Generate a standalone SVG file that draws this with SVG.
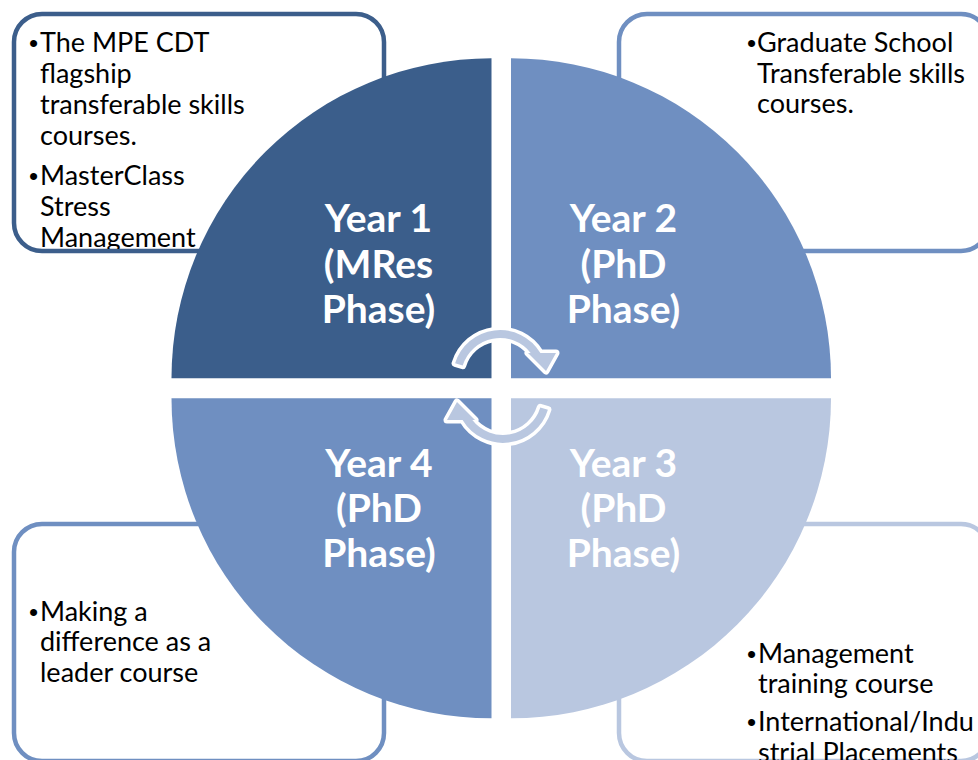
<svg xmlns="http://www.w3.org/2000/svg" width="978" height="760" viewBox="0 0 978 760">
<defs>
<style>
.box{fill:#fff;stroke-width:4.5}
.body{font-family:Lato,"Liberation Sans",sans-serif;font-size:27px;fill:#000}
.bul{font-family:"Liberation Sans",sans-serif;font-size:26px}
.yr{font-family:Lato,"Liberation Sans",sans-serif;font-size:39px;font-weight:bold;fill:#fff;text-anchor:middle}
.arrow{fill:#B9C7E0;stroke:#fff;stroke-width:7;stroke-linejoin:round;paint-order:stroke}
</style>
<clipPath id="clipTL"><rect x="16" y="16" width="366" height="233"/></clipPath>
</defs>
<g id="box-tl">
<rect class="box" x="14" y="14" width="370" height="237" rx="28" stroke="#3C5E8B"/>
<g clip-path="url(#clipTL)" class="body">
<text y="52"><tspan class="bul" x="29">•</tspan><tspan x="40">The MPE CDT</tspan></text>
<text x="40" y="83">flagship</text>
<text x="40" y="114">transferable skills</text>
<text x="40" y="145">courses.</text>
<text y="185"><tspan class="bul" x="29">•</tspan><tspan x="40">MasterClass</tspan></text>
<text x="40" y="216">Stress</text>
<text x="40" y="247">Management</text>
</g>
</g>
<g id="box-tr">
<rect class="box" x="619" y="14" width="370" height="237" rx="28" stroke="#6F8FC1"/>
<g class="body">
<text y="52"><tspan class="bul" x="747">•</tspan><tspan x="757">Graduate School</tspan></text>
<text x="757" y="83">Transferable skills</text>
<text x="757" y="113">courses.</text>
</g>
</g>
<g id="box-bl">
<rect class="box" x="14" y="524" width="370" height="237" rx="28" stroke="#6F8FC1"/>
<g class="body">
<text y="621"><tspan class="bul" x="29">•</tspan><tspan x="40">Making a</tspan></text>
<text x="40" y="651">difference as a</text>
<text x="40" y="682">leader course</text>
</g>
</g>
<g id="box-br">
<rect class="box" x="619" y="524" width="370" height="237" rx="28" stroke="#B9C7E0"/>
<g class="body">
<text y="663"><tspan class="bul" x="747">•</tspan><tspan x="758">Management</tspan></text>
<text x="758" y="693">training course</text>
<text y="731"><tspan class="bul" x="747">•</tspan><tspan x="758">International/Indu</tspan></text>
<text x="758" y="762">strial Placements</text>
</g>
</g>
<g id="year1">
<path d="M491.5 378.3 H171.5 A320 320 0 0 1 491.5 58.3 Z" fill="#3B5E8B"/>
<text class="yr" x="378.5" y="232">Year 1</text>
<text class="yr" x="378.5" y="278">(MRes</text>
<text class="yr" x="378.5" y="323">Phase)</text>
</g>
<g id="year2">
<path d="M511 378.3 V58.3 A320 320 0 0 1 831 378.3 Z" fill="#6F8FC1"/>
<text class="yr" x="623.5" y="232">Year 2</text>
<text class="yr" x="623.5" y="278">(PhD</text>
<text class="yr" x="623.5" y="323">Phase)</text>
</g>
<g id="year3">
<path d="M511 398.3 H831 A320 320 0 0 1 511 718.3 Z" fill="#B9C7E0"/>
<text class="yr" x="623.5" y="477">Year 3</text>
<text class="yr" x="623.5" y="522">(PhD</text>
<text class="yr" x="623.5" y="567">Phase)</text>
</g>
<g id="year4">
<path d="M491.5 398.3 V718.3 A320 320 0 0 1 171.5 398.3 Z" fill="#6F8FC1"/>
<text class="yr" x="379" y="477">Year 4</text>
<text class="yr" x="379" y="522">(PhD</text>
<text class="yr" x="379" y="567">Phase)</text>
</g>
<g id="connectors">
<path id="arrow-top" class="arrow" d="M455.1 363.3 A47 47 0 0 1 540.4 353 L556 353 L546 371 L528 353 L530.7 353 A39 39 0 0 0 462.7 365.6 Z"/>
<path id="arrow-bottom" class="arrow" transform="rotate(180 501.5 386.5)" d="M455.1 363.3 A47 47 0 0 1 540.4 353 L556 353 L546 371 L528 353 L530.7 353 A39 39 0 0 0 462.7 365.6 Z"/>
</g>
</svg>
